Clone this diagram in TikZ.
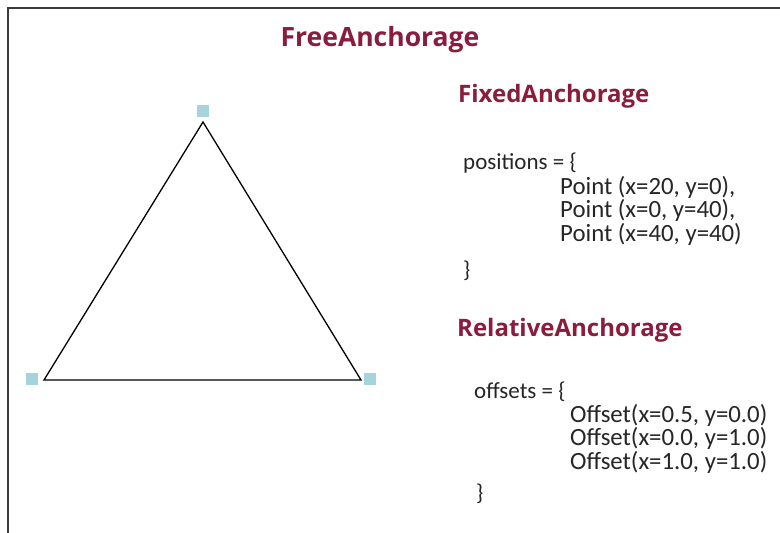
\documentclass[tikz,border=0pt]{standalone}
\usepackage{fontspec}
\setmainfont{Open Sans}
\newfontfamily\codefont{Carlito}
\definecolor{titlered}{HTML}{8A1C3C}
\definecolor{anchorblue}{HTML}{A6D4DE}
\definecolor{framegray}{HTML}{3A3A3A}
\tikzset{
  title/.style={font=\bfseries\fontsize{24}{28}\selectfont, text=titlered, inner sep=0pt},
  code/.style={font=\codefont\fontsize{23}{26}\selectfont, text=black!85, inner sep=0pt, anchor=west},
  codeline/.style={code, font=\codefont\fontsize{24.8}{28}\selectfont},
  anchorsq/.style={fill=anchorblue, minimum size=12pt, inner sep=0pt},
}
\begin{document}
\begin{tikzpicture}[x=1pt,y=-1pt]
\useasboundingbox (0,0) rectangle (780,533);
\fill[white] (0,0) rectangle (780,533);
\draw[framegray, line width=2pt] (8,533) -- (8,8) -- (780,8);
% triangle
\coordinate (t) at (203,122);
\coordinate (l) at (44,380);
\coordinate (r) at (361,380);
\draw[black, line width=1.3pt] (t) -- (l) -- (r) -- cycle;
\node[anchorsq] (st) at (203,111) {};
\node[anchorsq] (sl) at (32,379) {};
\node[anchorsq] (sr) at (370,379) {};
% texts
\node[title, font=\bfseries\fontsize{26.5}{30}\selectfont] (free) at (380,40) {FreeAnchorage};
\node[title, anchor=west] (fixed) at (458,96) {FixedAnchorage};
\node[code] (pos) at (463,163) {positions = \{};
\node[codeline] (p1) at (560,187) {Point (x=20, y=0),};
\node[codeline] (p2) at (560,210) {Point (x=0, y=40),};
\node[codeline] (p3) at (560,234) {Point (x=40, y=40)};
\node[code] (pc) at (463,271) {\}};
\node[title, anchor=west] (rel) at (457,330) {RelativeAnchorage};
\node[code] (off) at (474,392) {offsets = \{};
\node[codeline] (o1) at (570,415) {Offset(x=0.5, y=0.0)};
\node[codeline] (o2) at (570,438) {Offset(x=0.0, y=1.0)};
\node[codeline] (o3) at (570,462) {Offset(x=1.0, y=1.0)};
\node[code] (oc) at (476,494) {\}};
\end{tikzpicture}
\end{document}
